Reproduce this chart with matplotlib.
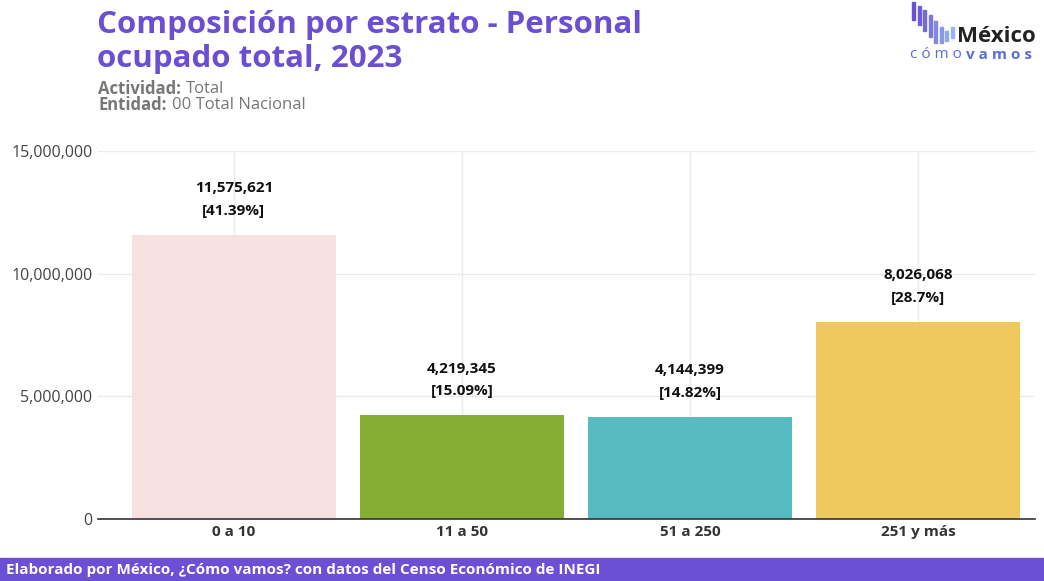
import matplotlib
matplotlib.use("Agg")
import matplotlib.pyplot as plt
from matplotlib.patches import Rectangle

plt.rcParams['font.family'] = ['Open Sans', 'DejaVu Sans']

estratos = ['0 a 10', '11 a 50', '51 a 250', '251 y más']
personal = [11575621, 4219345, 4144399, 8026068]
porcentaje = ['41.39%', '15.09%', '14.82%', '28.7%']
colores = ['#F7E1E0', '#86AE35', '#56BCC2', '#EFC95D']
yticks = [0, 5000000, 10000000, 15000000]

W, H = 1044, 581
fig = plt.figure(figsize=(W / 100, H / 100), dpi=100)
ax = fig.add_axes([98 / W, 62 / H, 937 / W, 368 / H])

x = list(range(len(estratos)))
ax.bar(x, personal, width=0.895, color=colores, zorder=2)
for xi, v, p in zip(x, personal, porcentaje):
    ax.text(xi, v + 700000, f'{v:,}\n[{p}]', ha='center', va='bottom',
            fontsize=11, fontweight='bold', color='#111111', linespacing=1.8)

ax.set_xlim(-0.596, 3.513)
ax.set_ylim(0, 15000000)
ax.set_yticks(yticks)
ax.set_yticklabels([f'{t:,}' for t in yticks], fontsize=11.5, color='#444444')
ax.set_xticks(x)
ax.set_xticklabels(estratos, fontsize=11, fontweight='bold', color='#333333')
ax.tick_params(length=0, pad=4)
ax.grid(True, color='#EBEBEB', linewidth=1, zorder=0)
ax.set_axisbelow(True)
for s in ['top', 'right', 'left']:
    ax.spines[s].set_visible(False)
ax.spines['bottom'].set_color('#333333')
ax.spines['bottom'].set_linewidth(1.2)
ax.spines['bottom'].set_zorder(3)

purple = '#6A4FD3'
fig.text(97 / W, 1 - 25 / H, 'Composición por estrato - Personal',
         fontsize=22.5, fontweight='bold', color=purple, va='center', ha='left')
fig.text(97 / W, 1 - 59 / H, 'ocupado total, 2023',
         fontsize=22.5, fontweight='bold', color=purple, va='center', ha='left')

renderer = fig.canvas.get_renderer()


def label_pair(y, bold, normal):
    t = fig.text(98 / W, 1 - y / H, bold, fontsize=12, color='#777777', va='center',
                 fontweight='bold')
    bb = t.get_window_extent(renderer)
    fig.text((bb.x1 + 5) / W, 1 - y / H, normal, fontsize=12, color='#777777', va='center')


label_pair(89, 'Actividad:', 'Total')
label_pair(105, 'Entidad:', '00 Total Nacional')

# footer
fig.patches.append(Rectangle((0, 0), 1, 23 / H, transform=fig.transFigure,
                             color='#6B4FD4', zorder=0))
fig.text(6 / W, 11 / H, 'Elaborado por México, ¿Cómo vamos? con datos del Censo Económico de INEGI',
         fontsize=11, fontweight='bold', color='white', va='center')

# logo
bar_cols = ['#6B4FD4', '#6F5CD8', '#7468DB', '#7A78DF', '#8088E2', '#8898E6', '#90A8EA', '#98B6EE']
bar_tops = [2, 6, 10, 15, 21, 27, 31, 27]
bar_bots = [20, 25, 31, 37, 43, 43, 41, 38]
for i, (c, t, b) in enumerate(zip(bar_cols, bar_tops, bar_bots)):
    fig.patches.append(Rectangle(((912 + i * 5.5) / W, 1 - b / H), 3.2 / W, (b - t) / H,
                                 transform=fig.transFigure, color=c))
fig.text(957 / W, 1 - 36 / H, 'México', fontsize=16, fontweight='bold', color='#222222',
         va='center')
fig.text(910 / W, 1 - 55 / H, 'c ó m o', fontsize=11, color='#5A6FD6', va='center')
fig.text(966 / W, 1 - 55 / H, 'v a m o s', fontsize=11, fontweight='bold', color='#5A6FD6',
         va='center')

fig.savefig('out.png', dpi=100)
